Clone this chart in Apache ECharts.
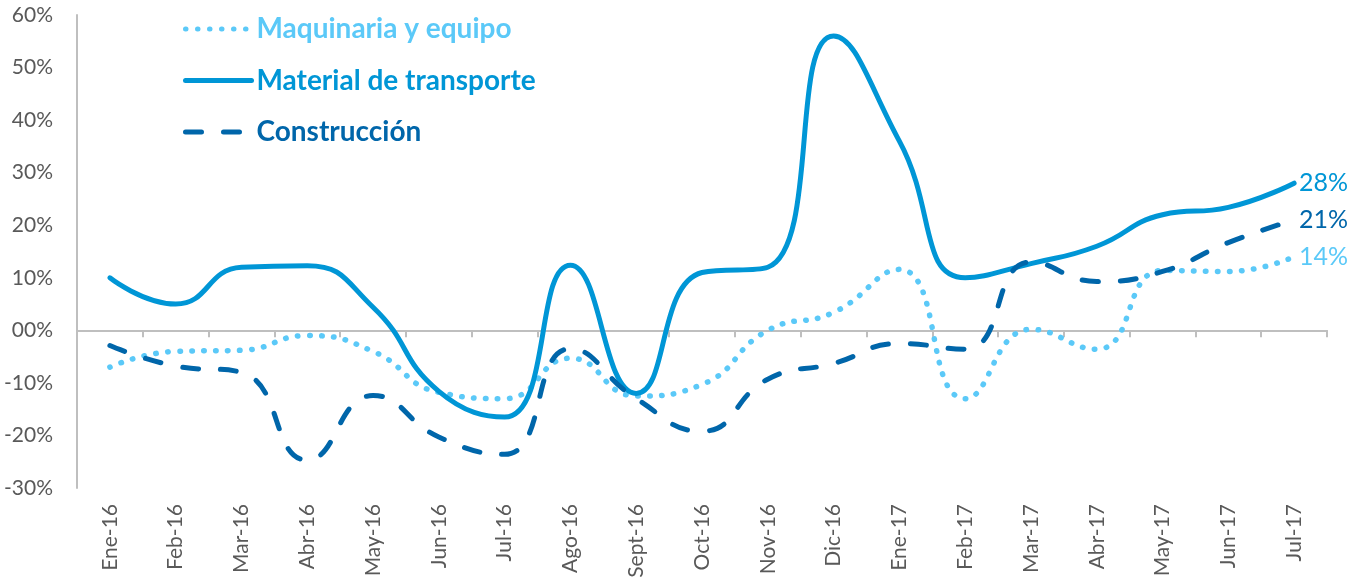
<!DOCTYPE html>
<html lang="es">
<head>
<meta charset="UTF-8">
<title>Maquinaria, transporte y construcción</title>
<script src="https://cdn.jsdelivr.net/npm/echarts@6/dist/echarts.min.js"></script>
<style>
  html, body { margin: 0; padding: 0; background: #fff; }
  #chart { width: 1365px; height: 582px; }
</style>
</head>
<body>
<div id="chart"></div>
<script>
  // categorias (meses)
  let meses = ['Ene-16', 'Feb-16', 'Mar-16', 'Abr-16', 'May-16', 'Jun-16', 'Jul-16', 'Ago-16', 'Sept-16',
    'Oct-16', 'Nov-16', 'Dic-16', 'Ene-17', 'Feb-17', 'Mar-17', 'Abr-17', 'May-17', 'Jun-17', 'Jul-17'];

  // valores en %
  let maquinaria = [-7, -4, -3.8, -1, -4, -11.8, -13, -5.3, -12.5, -10.3, 0, 3.4, 11.6, -13, 0.2, -3.6, 11.4, 11.2, 14];
  let transporte = [10, 5, 12, 12.3, 4.4, -11.6, -16.5, 12.4, -12, 11, 12, 56, 36, 10, 12.7, 16, 22, 23.4, 28];
  let construccion = [-2.9, -6.8, -8, -24.7, -12.4, -20.3, -23.6, -3.5, -13, -19.2, -9.3, -6.3, -2.5, -3.6, 13, 9.3, 11.2, 16.7, 21];

  let ticksY = [-30, 60, 10];

  const colMaq = '#5BC9F8';
  const colTra = '#0096D6';
  const colCon = '#0066AA';
  const fuente = 'Lato, "Open Sans", sans-serif';

  const chart = echarts.init(document.getElementById('chart'));

  function serie(name, data, color, type, width) {
    return {
      name: name,
      type: 'line',
      data: data,
      smooth: 0.5,
      symbol: 'none',
      lineStyle: { color: color, width: width, type: type, cap: 'round' },
      itemStyle: { color: color },
      endLabel: {
        show: true,
        formatter: p => Math.round(p.value) + '%',
        color: color,
        fontSize: 25,
        fontFamily: fuente,
        distance: 5
      }
    };
  }

  const option = {
    animation: false,
    grid: { left: 77, right: 38, top: 15, bottom: 94, containLabel: false },
    legend: {
      orient: 'vertical',
      left: 178,
      top: 10,
      itemWidth: 66,
      itemHeight: 14,
      itemGap: 23.5,
      itemStyle: { opacity: 0 },
      lineStyle: { width: 5, cap: 'round' },
      textStyle: { fontSize: 28, fontWeight: 'bold', fontFamily: fuente },
      data: [
        { name: 'Maquinaria y equipo', textStyle: { color: colMaq } },
        { name: 'Material de transporte', textStyle: { color: colTra } },
        { name: 'Construcción', textStyle: { color: colCon } }
      ]
    },
    xAxis: [
      {
        type: 'category',
        data: meses,
        position: 'bottom',
        axisLine: { show: false, onZero: false },
        axisTick: { show: false },
        axisLabel: { rotate: 90, fontSize: 21, color: '#595959', fontFamily: fuente, margin: 16 }
      },
      {
        type: 'category',
        data: meses,
        position: 'bottom',
        axisLine: { show: true, onZero: true, lineStyle: { color: '#BFBFBF', width: 2 } },
        axisTick: { show: true, length: 7, lineStyle: { color: '#BFBFBF', width: 2 } },
        axisLabel: { show: false }
      }
    ],
    yAxis: {
      type: 'value',
      min: ticksY[0],
      max: ticksY[1],
      interval: ticksY[2],
      axisLine: { show: true, lineStyle: { color: '#BFBFBF', width: 2 } },
      axisTick: { show: false },
      splitLine: { show: false },
      axisLabel: {
        fontSize: 21,
        color: '#595959',
        fontFamily: fuente,
        margin: 24,
        formatter: v => (v === 0 ? '00' : v) + '%'
      }
    },
    series: [
      serie('Maquinaria y equipo', maquinaria, colMaq, [0.5, 11.5], 5.5),
      serie('Material de transporte', transporte, colTra, 'solid', 5),
      serie('Construcción', construccion, colCon, [16, 22], 5)
    ]
  };

  chart.setOption(option);
</script>
</body>
</html>
